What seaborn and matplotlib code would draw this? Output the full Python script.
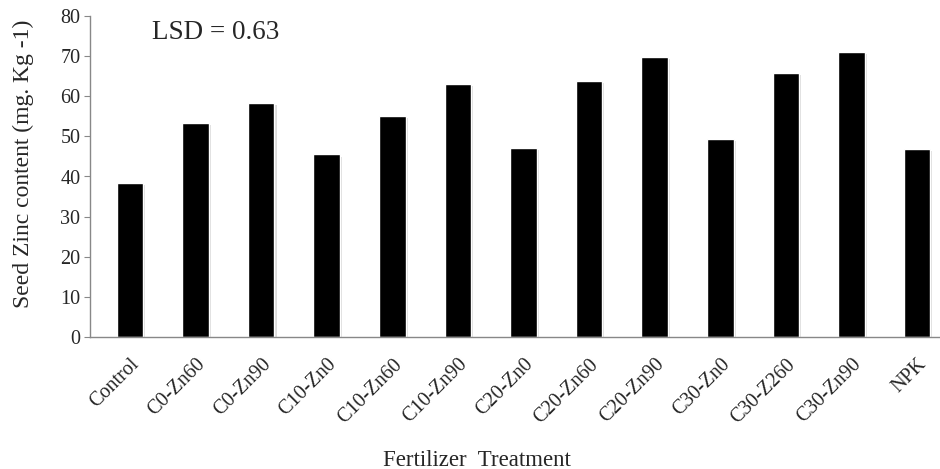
import matplotlib
matplotlib.use("Agg")
import matplotlib.pyplot as plt
import matplotlib.patheffects as pe
import seaborn as sns
import pandas as pd

# values
treatments = ["Control", "C0-Zn60", "C0-Zn90", "C10-Zn0", "C10-Zn60", "C10-Zn90",
              "C20-Zn0", "C20-Zn60", "C20-Zn90", "C30-Zn0", "C30-Z260", "C30-Zn90", "NPK"]
zinc = [38.4, 53.4, 58.4, 45.5, 55.0, 63.1, 47.1, 63.7, 69.7, 49.3, 65.7, 71.0, 46.8]
y_ticks = [0, 10, 20, 30, 40, 50, 60, 70, 80]

df = pd.DataFrame({"treatment": treatments, "zinc": zinc})

sns.set_style("white")
plt.rcParams["font.family"] = ["Liberation Serif", "DejaVu Serif"]

fig = plt.figure(figsize=(9.4, 4.69), dpi=100)
ax = fig.add_axes([90 / 940, 132 / 469, 850 / 940, 321 / 469])

sns.barplot(x="treatment", y="zinc", data=df, color="black", width=0.405,
            saturation=1, ax=ax)

# soft grey shadow like the original export
for bar in ax.patches:
    bar.set_path_effects([pe.SimplePatchShadow(offset=(1.5, -1.5), shadow_rgbFace="#999999", alpha=0.35),
                          pe.Normal()])

ax.set_xlim(-0.61, 12.35)
ax.set_ylim(0, 80)
ax.set_yticks(y_ticks)
ax.tick_params(axis="y", labelsize=14.5, length=4, color="#888888", direction="out", left=True, pad=3)
ax.tick_params(axis="x", labelsize=14.5, length=0, pad=13)
plt.setp(ax.get_xticklabels(), rotation=45, ha="right", rotation_mode="anchor")

for side in ["top", "right"]:
    ax.spines[side].set_visible(False)
for side in ["left", "bottom"]:
    ax.spines[side].set_color("#888888")
    ax.spines[side].set_linewidth(1.0)

ax.set_ylabel("")
ax.set_xlabel("")
fig.text(23 / 940, 1 - 164 / 469, "Seed Zinc content (mg. Kg -1)", fontsize=17,
         rotation=90, ha="center", va="center")
fig.text(477 / 940, 1 - 460 / 469, "Fertilizer  Treatment", fontsize=16.5,
         ha="center", va="center")

ax.text(0.34, 76, "LSD = 0.63", fontsize=19.5, ha="left", va="center")

plt.savefig("out.png", dpi=100)
